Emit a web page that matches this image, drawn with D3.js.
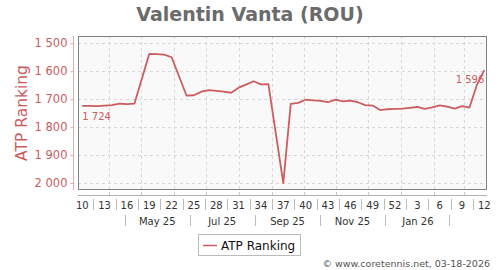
<!DOCTYPE html>
<html>
<head>
<meta charset="utf-8">
<script src="https://cdn.jsdelivr.net/npm/d3@7"></script>
<style>
  body { margin: 0; background: #fff; }
  svg text { font-family: "DejaVu Sans", Verdana, sans-serif; }
</style>
</head>
<body>
<svg id="chart" width="500" height="270"></svg>
<script>
// weekly ATP ranking (Monday of the ranking week)
const rankDates = [
  "2025-03-03", "2025-03-10", "2025-03-17", "2025-03-24", "2025-03-31", "2025-04-07",
  "2025-04-14", "2025-04-21", "2025-05-05", "2025-05-12", "2025-05-19", "2025-05-26",
  "2025-06-09", "2025-06-16", "2025-06-23", "2025-06-30", "2025-07-07", "2025-07-14",
  "2025-07-21", "2025-07-28", "2025-08-04", "2025-08-11", "2025-08-18", "2025-08-25",
  "2025-09-08", "2025-09-15", "2025-09-22", "2025-09-29", "2025-10-06", "2025-10-13",
  "2025-10-20", "2025-10-27", "2025-11-03", "2025-11-10", "2025-11-17", "2025-11-24",
  "2025-12-01", "2025-12-08", "2025-12-15", "2025-12-22", "2025-12-29", "2026-01-05",
  "2026-01-12", "2026-01-19", "2026-01-26", "2026-02-02", "2026-02-09", "2026-02-16",
  "2026-02-23", "2026-03-02", "2026-03-09", "2026-03-16"
];
const rankValues = [
  1724, 1724, 1725, 1723, 1721, 1716,
  1718, 1716, 1538, 1539, 1541, 1550,
  1687, 1686, 1673, 1668, 1670, 1673,
  1677, 1659, 1648, 1636, 1647, 1646,
  2000, 1717, 1713, 1702, 1704, 1706,
  1711, 1702, 1708, 1705, 1711, 1721,
  1723, 1739, 1736, 1735, 1734, 1731,
  1728, 1735, 1729, 1722, 1727, 1734,
  1725, 1730, 1649, 1596
];
const yTicks = [1500, 1600, 1700, 1800, 1900, 2000];
const weekTickDates = [
  "2025-03-03", "2025-03-24", "2025-04-14", "2025-05-05", "2025-05-26", "2025-06-16",
  "2025-07-07", "2025-07-28", "2025-08-18", "2025-09-08", "2025-09-29", "2025-10-20",
  "2025-11-10", "2025-12-01", "2025-12-22", "2026-01-12", "2026-02-02", "2026-02-23",
  "2026-03-16"
];
const weekTickLabels = ["10", "13", "16", "19", "22", "25", "28", "31", "34", "37",
  "40", "43", "46", "49", "52", "3", "6", "9", "12"];
const monthTickDates = ["2025-05", "2025-07", "2025-09", "2025-11", "2026-01"];
const monthTickLabels = ["May 25", "Jul 25", "Sep 25", "Nov 25", "Jan 26"];
const monthSepDates = ["2025-04", "2025-06", "2025-08", "2025-10", "2025-12", "2026-02"];

const red = "#cc5c5f";
const fmt = v => d3.format(",")(v).replace(",", " ");
const parseDay = d3.utcParse("%Y-%m-%d");
const parseMonth = d3.utcParse("%Y-%m");
// points sit in the middle of their week
const mid = d => d3.utcDay.offset(parseDay(d), 4);

const svg = d3.select("#chart");
const box = { left: 78, right: 487, top: 36, bottom: 190 };

const x = d3.scaleUtc()
  .domain([parseDay("2025-03-03"), new Date(Date.UTC(2026, 2, 22, 12))])
  .range([box.left, box.right]);
const y = d3.scaleLinear().domain([1474, 2025]).range([box.top, box.bottom]);
const monthMid = m => {
  const d = parseMonth(m);
  return (x(d) + x(d3.utcMonth.offset(d, 1))) / 2;
};

const data = rankDates.map((d, i) => ({ date: mid(d), value: rankValues[i] }));

// title
svg.append("text").attr("x", 250).attr("y", 21).attr("text-anchor", "middle")
  .attr("font-size", 19).attr("font-weight", "bold").attr("fill", "#6b6b6b")
  .text("Valentin Vanta (ROU)");

// plot area
svg.append("rect")
  .attr("x", box.left + 0.5).attr("y", box.top + 0.5)
  .attr("width", box.right - box.left - 1).attr("height", box.bottom - box.top - 1)
  .attr("fill", "#f9f9f9");

const gridMonths = d3.utcMonth.range(parseDay("2025-03-05"), parseDay("2026-03-20"));
svg.append("g").selectAll("line").data(gridMonths).join("line")
  .attr("x1", d => Math.round(x(d)) + 0.5).attr("x2", d => Math.round(x(d)) + 0.5)
  .attr("y1", box.top).attr("y2", box.bottom)
  .attr("stroke", "#d8d8d8").attr("stroke-dasharray", "3,3");
svg.append("g").selectAll("line").data(yTicks).join("line")
  .attr("x1", box.left).attr("x2", box.right)
  .attr("y1", d => Math.round(y(d)) + 0.5).attr("y2", d => Math.round(y(d)) + 0.5)
  .attr("stroke", "#d8d8d8").attr("stroke-dasharray", "3,3");

svg.append("rect")
  .attr("x", box.left + 0.5).attr("y", box.top + 0.5)
  .attr("width", box.right - box.left - 1).attr("height", box.bottom - box.top - 1)
  .attr("fill", "none").attr("stroke", "#808080");

// y axis
const yAxis = svg.append("g").attr("transform", "translate(73.5,0)")
  .call(d3.axisLeft(y).tickValues(yTicks).tickFormat(fmt).tickSize(3).tickSizeOuter(0));
yAxis.select(".domain").attr("stroke", "#e3a9aa").attr("d", `M0,${box.top}V${box.bottom}`);
yAxis.selectAll(".tick line").attr("stroke", "#e3a9aa");
yAxis.selectAll(".tick text").attr("fill", red).attr("font-size", 11.5)
  .attr("font-family", "DejaVu Sans").attr("x", -6);

svg.append("text")
  .attr("transform", `translate(27,${(box.top + box.bottom) / 2}) rotate(-90)`)
  .attr("text-anchor", "middle").attr("font-size", 15.5).attr("fill", red)
  .text("ATP Ranking");

// x axis: line with small ticks, week row and month row
svg.append("line").attr("x1", box.left).attr("x2", box.right)
  .attr("y1", 195.5).attr("y2", 195.5).attr("stroke", "#b0b0b0");
svg.append("g").selectAll("line").data(gridMonths).join("line")
  .attr("x1", d => Math.round(x(d)) + 0.5).attr("x2", d => Math.round(x(d)) + 0.5)
  .attr("y1", 192).attr("y2", 195).attr("stroke", "#c8c8c8");

const weekX = weekTickDates.map(d => x(mid(d)));
svg.append("g").selectAll("text").data(weekTickLabels).join("text")
  .attr("x", (d, i) => weekX[i]).attr("y", 208.5).attr("text-anchor", "middle")
  .attr("font-size", 10).attr("fill", "#333").text(d => d);
svg.append("g").selectAll("line").data(d3.pairs(weekX)).join("line")
  .attr("x1", d => Math.round((d[0] + d[1]) / 2) + 0.5)
  .attr("x2", d => Math.round((d[0] + d[1]) / 2) + 0.5)
  .attr("y1", 199).attr("y2", 210).attr("stroke", "#bbb");

svg.append("g").selectAll("text").data(monthTickLabels).join("text")
  .attr("x", (d, i) => monthMid(monthTickDates[i])).attr("y", 224.5)
  .attr("text-anchor", "middle").attr("font-size", 10).attr("fill", "#333").text(d => d);
svg.append("g").selectAll("line").data(monthSepDates).join("line")
  .attr("x1", d => Math.round(monthMid(d)) + 0.5).attr("x2", d => Math.round(monthMid(d)) + 0.5)
  .attr("y1", 215).attr("y2", 226).attr("stroke", "#bbb");

// ranking line
svg.append("path").datum(data)
  .attr("fill", "none").attr("stroke", red).attr("stroke-width", 1.8)
  .attr("stroke-linejoin", "round")
  .attr("d", d3.line().x(d => x(d.date)).y(d => y(d.value)));

const first = data[0], last = data[data.length - 1];
svg.append("text").attr("x", x(first.date)).attr("y", y(first.value) + 14)
  .attr("font-size", 10).attr("fill", red).text(fmt(first.value));
svg.append("text").attr("x", x(last.date)).attr("y", y(last.value) + 13)
  .attr("text-anchor", "end").attr("font-size", 10).attr("fill", red).text(fmt(last.value));

// legend
svg.append("rect").attr("x", 198.5).attr("y", 234.5).attr("width", 102).attr("height", 21)
  .attr("fill", "#fff").attr("stroke", "#bbb");
svg.append("line").attr("x1", 203).attr("x2", 217).attr("y1", 245.5).attr("y2", 245.5)
  .attr("stroke", red).attr("stroke-width", 1.5);
svg.append("text").attr("x", 221).attr("y", 249.5).attr("font-size", 12)
  .attr("fill", "#111").text("ATP Ranking");

svg.append("text").attr("x", 490).attr("y", 267).attr("text-anchor", "end")
  .attr("font-size", 9.5).attr("fill", "#555").text("© www.coretennis.net, 03-18-2026");
</script>
</body>
</html>
